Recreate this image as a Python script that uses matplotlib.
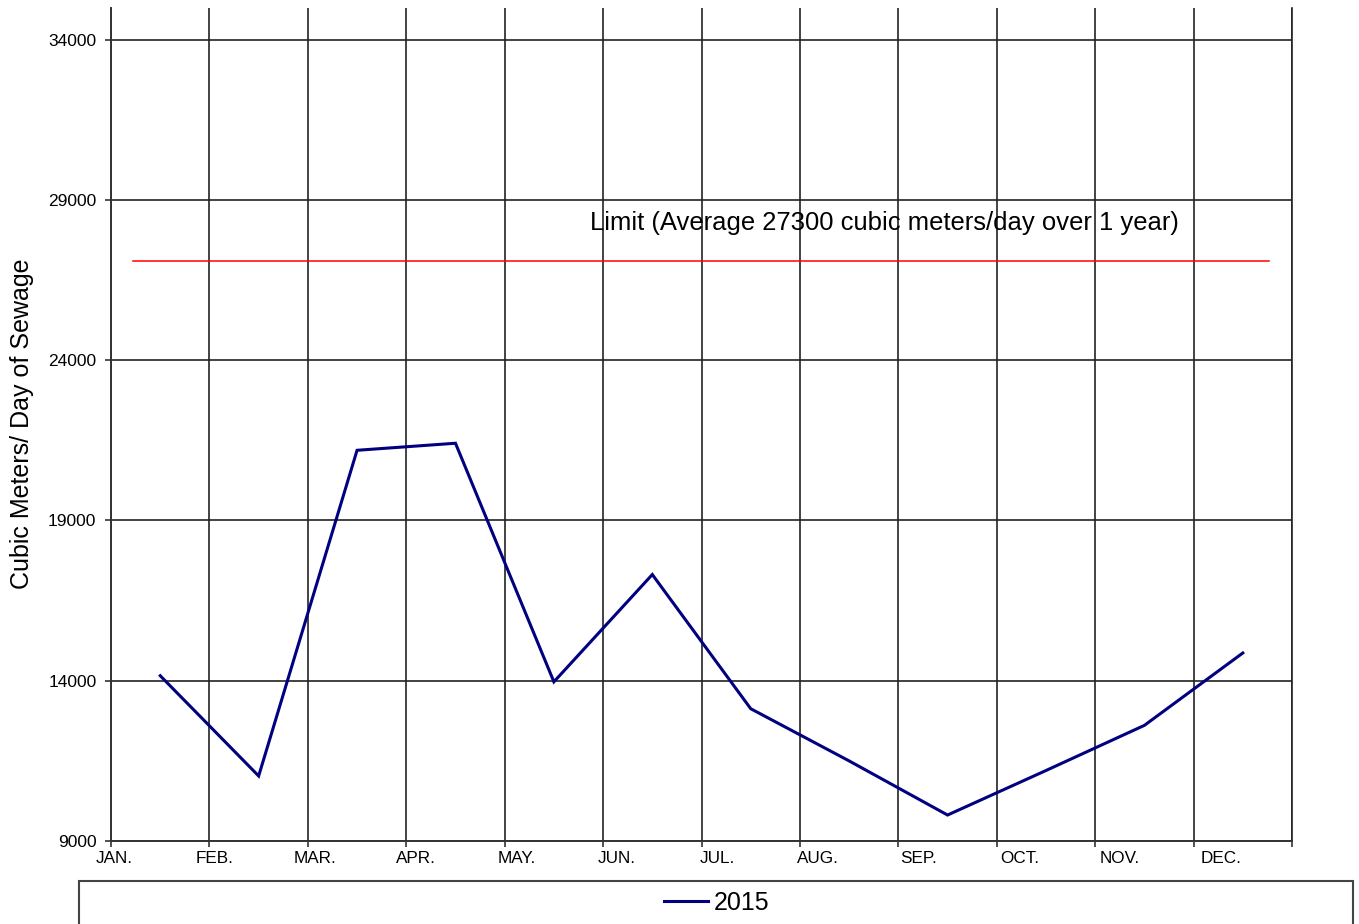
import matplotlib.pyplot as plt
import numpy as np
from matplotlib.patches import Rectangle

plt.rcParams["font.family"] = ["Liberation Sans", "DejaVu Sans"]

months = ["JAN.", "FEB.", "MAR.", "APR.", "MAY.", "JUN.",
          "JUL.", "AUG.", "SEP.", "OCT.", "NOV.", "DEC."]
flow_2015 = [14150, 11020, 21190, 21410, 13960, 17310,
             13120, 11490, 9800, 11190, 12600, 14860]
series_name = "2015"
limit_value = 27100
limit_text = "Limit (Average 27300 cubic meters/day over 1 year)"
y_ticks = [9000, 14000, 19000, 24000, 29000, 34000]


def main():
    fig = plt.figure(figsize=(13.59, 9.24), dpi=100)
    ax = fig.add_axes([0.0817, 0.0902, 0.869, 0.9011])

    x = np.arange(len(months)) + 0.5
    line, = ax.plot(x, flow_2015, color="#000080", linewidth=2.2,
                    solid_joinstyle="miter", zorder=3)

    # limit line, drawn a bit short of the frame like the original
    ax.plot([0.22, len(months) - 0.23], [limit_value, limit_value],
            color="red", linewidth=1.1, zorder=3)
    ax.text(4.867, 28070, limit_text, fontsize=18.45, va="baseline", ha="left")

    ax.set_xlim(0, len(months))
    ax.set_ylim(9000, 35000)

    # grid on the major ticks, labels on their own (slightly wider) spacing
    ax.set_xticks(np.arange(len(months) + 1))
    ax.set_xticklabels([])
    ax.set_xticks(np.arange(len(months)) * 1.0222 + 0.03, minor=True)
    ax.set_xticklabels(months, minor=True, fontsize=12.3)
    ax.tick_params(axis="x", which="minor", length=0, pad=7.5)
    ax.tick_params(axis="x", which="major", length=4, width=1.2,
                   color="#333333", direction="out")

    ax.set_yticks(y_ticks)
    ax.set_yticklabels([str(v) for v in y_ticks], fontsize=12.5)
    ax.tick_params(axis="y", length=4, width=1.2, color="#333333", pad=6.5)

    ax.grid(True, which="major", color="#222222", linewidth=1.2)
    ax.set_axisbelow(True)

    ax.spines["top"].set_visible(False)
    ax.spines["right"].set_color("#222222")
    ax.spines["right"].set_linewidth(1.2)
    for side in ["left", "bottom"]:
        ax.spines[side].set_color("#333333")
        ax.spines[side].set_linewidth(1.4)

    fig.text(0.0162, 0.541, "Cubic Meters/ Day of Sewage", rotation=90,
             fontsize=18, ha="center", va="center")

    # legend box runs off the bottom of the image
    fig.patches.append(Rectangle((79 / 1359, -0.05), 1274 / 1359, 0.0965,
                                 transform=fig.transFigure, fill=False,
                                 edgecolor="#444444", linewidth=1.5))
    fig.legend([line], [series_name], loc="center",
               bbox_to_anchor=(717 / 1359, 1 - 903 / 924), frameon=False,
               fontsize=18, handlelength=1.75, handletextpad=0.25)

    fig.savefig("out.png", dpi=100)


if __name__ == "__main__":
    main()
